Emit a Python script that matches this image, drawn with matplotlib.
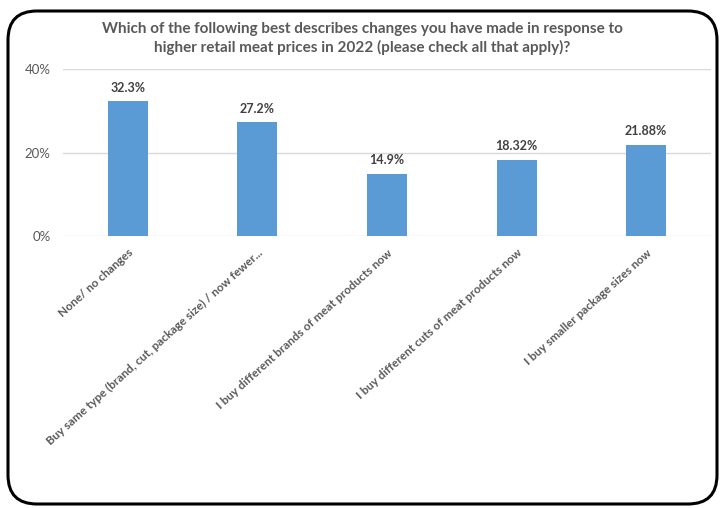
import matplotlib
matplotlib.use('Agg')
import matplotlib.pyplot as plt
from matplotlib.patches import FancyBboxPatch

# data
categories = ["None/ no changes",
              "Buy same type (brand, cut, package size) / now fewer...",
              "I buy different brands of meat products now",
              "I buy different cuts of meat products now",
              "I buy smaller package sizes now"]
values = [32.3, 27.2, 14.9, 18.32, 21.88]
value_labels = ["32.3%", "27.2%", "14.9%", "18.32%", "21.88%"]
yticks = [0, 20, 40]
ytick_labels = ["0%", "20%", "40%"]

plt.rcParams['font.family'] = ['Lato', 'DejaVu Sans']

fig = plt.figure(figsize=(7.25, 5.08), dpi=100)
ax = fig.add_axes([63/725, 1-236/508, (711-63)/725, (236-69)/508])

x = range(len(categories))
ax.bar(x, values, width=0.31, color="#5B9BD5", zorder=3)
for i, v in enumerate(values):
    ax.text(i, v + 1.8, value_labels[i], ha="center", va="bottom",
            fontsize=9, fontweight="bold", color="#404040")

ax.set_xlim(-0.5, len(categories) - 0.5)
ax.set_ylim(0, 40)
ax.set_yticks(yticks)
ax.set_yticklabels(ytick_labels, fontsize=9.5, color="#595959")
ax.yaxis.grid(True, color="#d9d9d9", linewidth=1, zorder=0)
ax.set_xticks(list(x))
ax.set_xticklabels(categories, rotation=42, ha="right", rotation_mode="anchor",
                   fontsize=8.5, fontweight="bold", color="#595959")
ax.tick_params(axis="both", length=0)
ax.tick_params(axis="x", pad=8)
ax.tick_params(axis="y", pad=9)
for s in ax.spines.values():
    s.set_visible(False)

fig.text(0.5, 1-29/508, "Which of the following best describes changes you have made in response to",
         ha="center", va="center", fontsize=11, fontweight="bold", color="#595959")
fig.text(0.5, 1-47/508, "higher retail meat prices in 2022 (please check all that apply)?",
         ha="center", va="center", fontsize=11, fontweight="bold", color="#595959")

border = FancyBboxPatch((8/725, 1-504/508), (717-8)/725, (504-11)/508,
                        boxstyle="round,pad=0,rounding_size=0.04",
                        transform=fig.transFigure, fill=False,
                        edgecolor="black", linewidth=2.2, mutation_aspect=725/508)
fig.patches.append(border)

fig.savefig("out.png", dpi=100)
